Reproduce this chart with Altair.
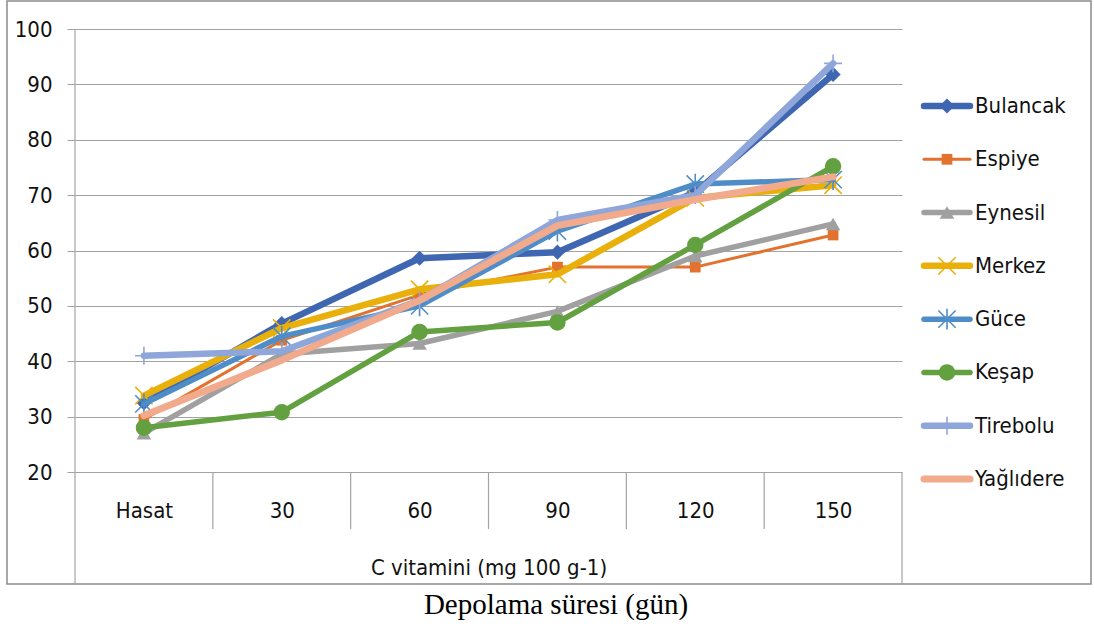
import altair as alt
import pandas as pd

# ---------------- data ----------------
categories = ["Hasat", "30", "60", "90", "120", "150"]
series_names = ["Bulancak", "Espiye", "Eynesil", "Merkez", "Güce", "Keşap", "Tirebolu", "Yağlıdere"]

bulancak = [32.5, 46.8, 58.6, 59.7, 70.5, 91.8]
espiye = [29.5, 43.8, 52.0, 57.0, 57.0, 62.8]
eynesil = [27.0, 41.3, 43.2, 49.0, 59.0, 64.8]
merkez = [33.8, 46.0, 53.0, 55.7, 69.5, 71.8]
guce = [32.3, 44.5, 50.0, 63.5, 72.0, 72.8]
kesap = [28.0, 30.8, 45.3, 47.0, 61.0, 75.2]
tirebolu = [41.0, 41.8, 51.0, 65.5, 70.0, 93.8]
yaglidere = [30.2, 40.2, 51.0, 64.5, 69.2, 73.3]

y_ticks = [20, 30, 40, 50, 60, 70, 80, 90, 100]
x_title = "C vitamini (mg 100 g-1)"
outer_title = "Depolama süresi (gün)"

series_values = [bulancak, espiye, eynesil, merkez, guce, kesap, tirebolu, yaglidere]

rows = []
for name, vals in zip(series_names, series_values):
    for i, v in enumerate(vals):
        rows.append({"series": name, "idx": i, "val": v})
df = pd.DataFrame(rows)

# ---------------- styles ----------------
X_PATH = "M-1,-1L1,1M-1,1L1,-1"
AST_PATH = "M-1,-1L1,1M-1,1L1,-1M0,-1.2L0,1.2"
PLUS_PATH = "M0,-1L0,1M-1,0L1,0"

styles = {
    "Bulancak": dict(color="#3F66B0", width=6.5, shape="diamond", filled=True, size=230),
    "Espiye": dict(color="#E2722D", width=3, shape="square", filled=True, size=115),
    "Eynesil": dict(color="#A0A0A0", width=5.5, shape="triangle-up", filled=True, size=210),
    "Merkez": dict(color="#E9B00C", width=6.5, shape=X_PATH, filled=False, size=300),
    "Güce": dict(color="#4F8DC8", width=5.5, shape=AST_PATH, filled=False, size=300),
    "Keşap": dict(color="#63A03F", width=5.5, shape="circle", filled=True, size=270),
    "Tirebolu": dict(color="#8EA6DA", width=6.5, shape=PLUS_PATH, filled=False, size=320),
    "Yağlıdere": dict(color="#F2AA8C", width=7, shape=None, filled=True, size=0),
}

FONT = "Liberation Sans Narrow, DejaVu Sans Condensed, Open Sans"
FS = 22
GRID = "#A3A3A3"
W, H = 827, 443
n = len(categories)

label_expr = "[" + ",".join("'" + c + "'" for c in categories) + "][datum.value]"

x_enc = alt.X(
    "idx:Q",
    scale=alt.Scale(domain=[-0.5, n - 0.5], nice=False, zero=False),
    axis=alt.Axis(
        values=list(range(n)), labelExpr=label_expr, ticks=False, domain=False, grid=False,
        labelPadding=28, labelFont=FONT, labelFontSize=FS, labelColor="#111",
        title=x_title, titleFont=FONT, titleFontSize=FS, titleFontWeight="normal",
        titleColor="#111", titleY=95, titleBaseline="middle",
    ),
)
y_enc = alt.Y(
    "val:Q",
    scale=alt.Scale(domain=[y_ticks[0], y_ticks[-1]], nice=False, zero=False),
    axis=alt.Axis(
        values=y_ticks, grid=True, gridColor=GRID, gridWidth=1.2, domain=False,
        ticks=True, tickSize=8, tickColor=GRID, labelPadding=15,
        labelFont=FONT, labelFontSize=FS, labelColor="#111", title=None,
    ),
)

base = alt.Chart(df)
layers = []

# decoration: outer border, axis box lines, category separators
one = pd.DataFrame({"k": [0]})
layers.append(
    alt.Chart(one).mark_rect(fill=None, stroke="#8C8C8C", strokeWidth=1.5).encode(
        x=alt.value(-68), x2=alt.value(1016), y=alt.value(-28), y2=alt.value(555)
    )
)
inner_b = pd.DataFrame({"idx": [i + 0.5 for i in range(n - 1)]})
layers.append(
    alt.Chart(inner_b).mark_rule(color=GRID, strokeWidth=1.2).encode(
        x=x_enc, y=alt.value(H), y2=alt.value(H + 57)
    )
)
layers.append(
    alt.Chart(pd.DataFrame({"idx": [-0.5]})).mark_rule(color=GRID, strokeWidth=1.2).encode(
        x=x_enc, y=alt.value(0), y2=alt.value(H + 112)
    )
)
layers.append(
    alt.Chart(pd.DataFrame({"idx": [n - 0.5]})).mark_rule(color=GRID, strokeWidth=1.2).encode(
        x=x_enc, y=alt.value(H), y2=alt.value(H + 112)
    )
)

for name in series_names:
    st = styles[name]
    sub = base.transform_filter(alt.datum.series == name)
    layers.append(
        sub.mark_line(color=st["color"], strokeWidth=st["width"], strokeCap="round", strokeJoin="round")
        .encode(x=x_enc, y=y_enc)
    )
    if st["shape"] is not None:
        if st["filled"]:
            pm = sub.mark_point(shape=st["shape"], filled=True, color=st["color"], size=st["size"], opacity=1)
        else:
            pm = sub.mark_point(shape=st["shape"], filled=False, color=st["color"], size=st["size"],
                                strokeWidth=1.6, opacity=1)
        layers.append(pm.encode(x=x_enc, y=y_enc))

layers.append(
    alt.Chart(one).mark_text(text=outer_title, font="Liberation Serif", fontSize=29,
                             align="center", baseline="middle", color="#000").encode(
        x=alt.value(481), y=alt.value(576)
    )
)

main = alt.layer(*layers)

# ---------------- legend ----------------
leg_df = pd.DataFrame({"series": series_names})
leg_y = alt.Y("series:N", scale=alt.Scale(type="point", domain=series_names, range=[77, 450], padding=0), axis=None)
leg_layers = []
for name in series_names:
    st = styles[name]
    sub = alt.Chart(leg_df).transform_filter(alt.datum.series == name)
    leg_layers.append(
        sub.mark_rule(color=st["color"], strokeWidth=st["width"], strokeCap="round").encode(
            x=alt.value(849), x2=alt.value(895), y=leg_y
        )
    )
    if st["shape"] is not None:
        if st["filled"]:
            pm = sub.mark_point(shape=st["shape"], filled=True, color=st["color"], size=st["size"], opacity=1)
        else:
            pm = sub.mark_point(shape=st["shape"], filled=False, color=st["color"], size=st["size"],
                                strokeWidth=1.6, opacity=1)
        leg_layers.append(pm.encode(x=alt.value(872), y=leg_y))
leg_layers.append(
    alt.Chart(leg_df).mark_text(align="left", baseline="middle", font=FONT, fontSize=FS, color="#111").encode(
        x=alt.value(900), y=leg_y, text="series:N"
    )
)
legend = alt.layer(*leg_layers)

chart = (
    alt.layer(main, legend)
    .resolve_scale(y="independent")
    .properties(
        width=W, height=H,
        padding={"left": 75, "top": 29, "right": 192, "bottom": 158},
        autosize=alt.AutoSizeParams(type="none"),
        background="white",
    )
    .configure_view(stroke=None)
)

chart.save("out.html", embed_options={"renderer": "svg", "actions": False})
